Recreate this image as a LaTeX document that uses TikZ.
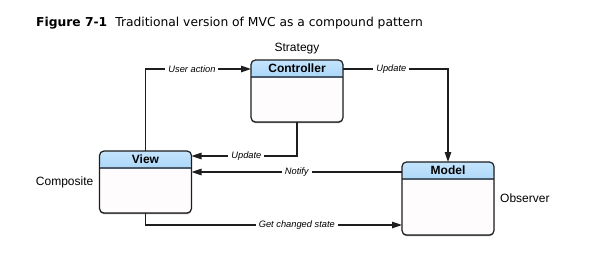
\documentclass[tikz,border=0pt]{standalone}
\usepackage{fontspec}
\setmainfont{Liberation Sans}
\newfontfamily\titlefont{DejaVu Sans}
\usepackage{tikz}
\usetikzlibrary{positioning,arrows.meta,shadows}
\definecolor{edge}{HTML}{1E1E1E}
\definecolor{body}{HTML}{FFFCFD}
\definecolor{hdrtop}{HTML}{C4E4FC}
\definecolor{hdrbot}{HTML}{68B2EE}
\definecolor{sepline}{HTML}{4B5B6B}
\newcommand{\hdrfont}{\bfseries\fontsize{12}{14}\selectfont}
\newcommand{\tagfont}{\itshape\fontsize{9.3}{11}\selectfont}
\newcommand{\rolefont}{\fontsize{12}{14}\selectfont}
\tikzset{
  mvcbox/.style={draw=edge,line width=1.2pt,fill=body,rounded corners=4.5pt,minimum width=92pt,inner sep=0pt,outer sep=0pt,
    drop shadow={shadow xshift=0pt,shadow yshift=-1.2pt,fill=black,opacity=0.5},
    path picture={
      \shade[top color=hdrtop,bottom color=hdrbot] (path picture bounding box.north west) rectangle ([yshift=-17pt]path picture bounding box.north east);
      \draw[sepline,line width=1.2pt] ([yshift=-17pt]path picture bounding box.north west) -- ([yshift=-17pt]path picture bounding box.north east);
    }},
  hdr/.style={font=\hdrfont,inner sep=0pt},
  flow/.style={-{Triangle[length=10pt,width=6.5pt]},line width=1.2pt,draw=edge},
  tag/.style={font=\tagfont,fill=white,inner sep=3pt},
  role/.style={font=\rolefont,inner sep=0pt},
}

\begin{document}
\begin{tikzpicture}[x=1pt,y=-1pt]
\fill[white] (0,0) rectangle (589,266);
\useasboundingbox (0,0) rectangle (589,266);
\node[anchor=base west,inner sep=0pt,font=\titlefont\fontsize{12.3}{14}\selectfont] (title) at (36,26) {\textbf{Figure 7-1}\hspace{8pt}Traditional version of MVC as a compound pattern};
% the three boxes
\node[mvcbox,minimum height=62pt] (ctl) at (297,91) {};
\node[mvcbox,minimum height=62pt] (view) at (145.5,182) {};
\node[mvcbox,minimum height=73pt] (mdl) at (448,198.5) {};
\node[hdr] (ctltxt) at ([yshift=-8.5pt]ctl.north) {Controller};
\node[hdr] (viewtxt) at ([yshift=-8.5pt]view.north) {View};
\node[hdr] (mdltxt) at ([yshift=-8.5pt]mdl.north) {Model};
\node[role,above=6pt of ctl] (strat) {Strategy};
\node[role,left=6pt of view] (comp) {Composite};
\node[role,right=6pt of mdl] (obs) {Observer};
% connectors
\coordinate (ntf) at ([yshift=-10pt]mdl.north west);
\draw[flow] (view.north) |- node[tag,pos=0.72] {User action} ([yshift=-9pt]ctl.north west);
\draw[flow] ([yshift=-9pt]ctl.north east) -| node[tag,pos=0.23] {Update} (mdl.north);
\draw[flow] (ctl.south) |- node[tag,pos=0.74] {Update} ([yshift=-5pt]view.north east);
\draw[flow] (ntf) -- node[tag] {Notify} (ntf -| view.east);
\draw[flow] (view.south) |- node[tag,pos=0.795] {Get changed state} ([yshift=10pt]mdl.south west);
\end{tikzpicture}
\end{document}
